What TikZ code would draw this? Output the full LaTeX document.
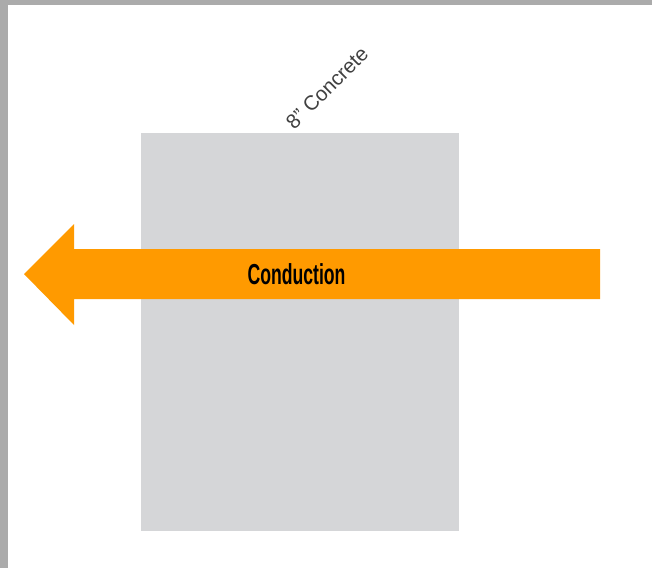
\documentclass[tikz,border=0pt]{standalone}
\usepackage{fontspec}
\setmainfont{Liberation Sans}
\usepackage{tikz}
\definecolor{frame}{HTML}{ABABAB}
\definecolor{concrete}{HTML}{D5D6D8}
\definecolor{heat}{HTML}{FF9A00}
\definecolor{labelgray}{HTML}{404040}
\tikzset{wall/.style={fill=concrete, draw=none}}
\tikzset{heatflow/.style={fill=heat, draw=none}}

\begin{document}
\begin{tikzpicture}[x=1bp, y=-1bp]
            \useasboundingbox (0, 0) rectangle (652, 568);
            \fill[frame] (0, 0) rectangle (652, 5);
            \fill[frame] (0, 0) rectangle (8, 568);
            \fill[wall] (141, 133) rectangle (459, 531);
            \node[rotate=45, text=labelgray, font=\fontsize{20.5}{20.5}\selectfont] (wallname) at (327, 88) {8” Concrete};
            \fill[heatflow] (600, 249) -- (74, 249) -- (74, 224) -- (24, 274) -- (74, 325) -- (74, 299) -- (600, 299) -- cycle;
            \node[font=\fontsize{29}{29}\bfseries\selectfont] (flowname) at (296.5, 274.5) {\scalebox{0.61}[1]{Conduction}};
        \end{tikzpicture}
\end{document}
